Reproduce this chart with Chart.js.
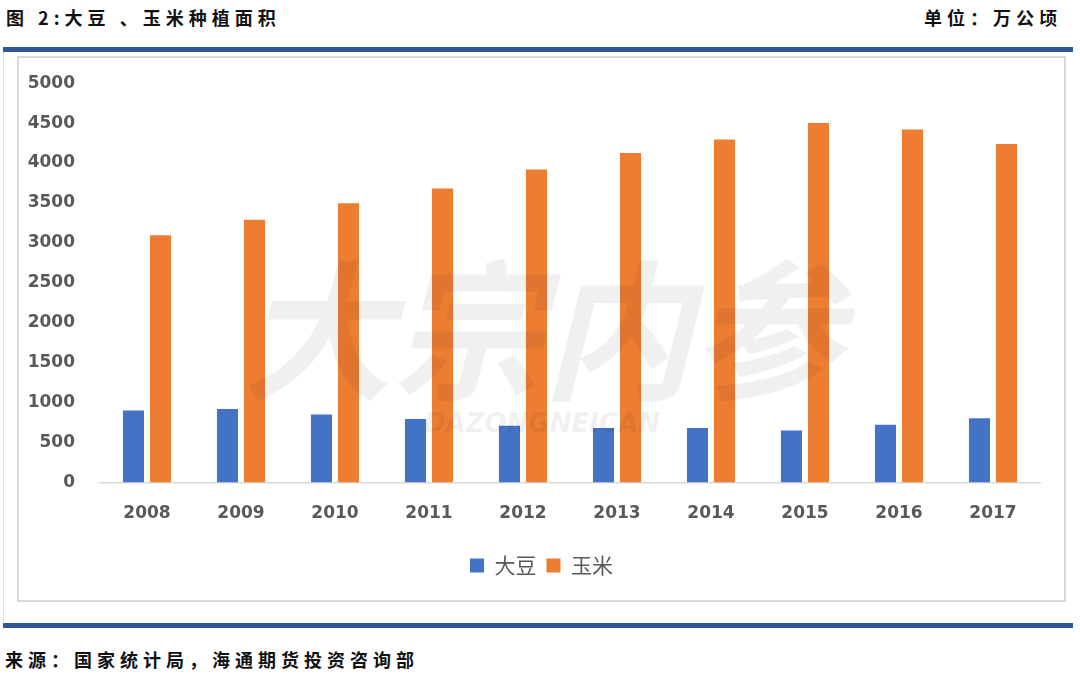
<!DOCTYPE html>
<html>
<head>
<meta charset="utf-8">
<script src="https://cdn.jsdelivr.net/npm/chart.js@4/dist/chart.umd.min.js"></script>
<style>
  html, body { margin: 0; padding: 0; background: #fff; }
  body { width: 1080px; height: 686px; position: relative; overflow: hidden; font-family: "Noto Sans CJK SC", sans-serif; }
  .title { position: absolute; left: 6px; top: 4px; font-size: 18px; font-weight: bold; color: #111; letter-spacing: 5px; }
  .unit { position: absolute; right: 18px; top: 4px; font-size: 18px; font-weight: bold; color: #111; letter-spacing: 5px; }
  .bar { position: absolute; left: 3px; width: 1070px; height: 5px; background: #2f5597; }
  .dots { position: absolute; left: 3px; top: 52px; height: 570px; border-left: 1px dotted #ccc; }
  .box { position: absolute; left: 17px; top: 56px; width: 1045px; height: 542px; border: 2px solid #d9d9d9; }
  .box canvas { position: absolute; left: -2px; top: -2px; }
  .source { position: absolute; left: 5px; top: 646px; font-size: 18px; font-weight: bold; color: #111; letter-spacing: 5px; }
</style>
</head>
<body>
<div class="title">图 2:大豆 、玉米种植面积</div>
<div class="unit">单位：万公顷</div>
<div class="bar" style="top:47px"></div>
<div class="dots"></div>
<div class="box"><canvas id="chart" width="1049" height="546"></canvas></div>
<div class="bar" style="top:623px"></div>
<div class="source">来源：国家统计局，海通期货投资咨询部</div>

<script>
// years on the x axis
const years = ['2008', '2009', '2010', '2011', '2012', '2013', '2014', '2015', '2016', '2017'];
// planted area, 万公顷
const soybean = [902, 919, 852, 794, 710, 681, 681, 652, 723, 806];
const corn = [3095, 3290, 3498, 3681, 3919, 4127, 4294, 4502, 4419, 4240];

const tickFont = { family: 'DejaVu Sans', size: 17, weight: 'bold' };

// faint watermark like the one in the source picture
const watermark = {
    id: 'watermark',
    afterDatasetsDraw(chart) {
        const c = chart.ctx;
        c.save();
        c.fillStyle = 'rgba(0,0,0,0.06)';
        c.textAlign = 'center';
        c.textBaseline = 'middle';
        c.font = 'italic bold 150px "Noto Sans CJK SC"';
        c.fillText('大宗内参', 525, 275);
        c.font = 'italic bold 26px "DejaVu Sans"';
        c.fillText('DAZONGNEICAN', 525, 369);
        c.restore();
    }
};

// centre the legend on the whole box, not on the padded area
const legendShift = {
    id: 'legendShift',
    afterLayout(chart) {
        if (chart.legend) {
            chart.legend.left += 13;
            chart.legend.right += 13;
        }
    }
};

new Chart(document.getElementById('chart').getContext('2d'), {
    type: 'bar',
    data: {
        labels: years,
        datasets: [
            { label: '大豆', data: soybean, backgroundColor: '#4472c4' },
            { label: '玉米', data: corn, backgroundColor: '#ed7d31' }
        ]
    },
    options: {
        responsive: false,
        animation: false,
        layout: { padding: { top: 26, right: 26, bottom: 16, left: 0 } },
        datasets: { bar: { categoryPercentage: 0.575, barPercentage: 0.78 } },
        scales: {
            x: {
                grid: { display: false },
                border: { color: '#d9d9d9', width: 1.5 },
                ticks: { color: '#595959', font: tickFont, padding: 13 },
                afterFit(scale) { scale.height = 62.5; }
            },
            y: {
                min: 0,
                max: 5000,
                grid: { display: false },
                border: { display: false },
                ticks: {
                    stepSize: 500,
                    color: '#595959',
                    font: tickFont,
                    padding: 17,
                    callback: v => String(v)
                },
                afterFit(scale) { scale.width = 83; }
            }
        },
        plugins: {
            legend: {
                position: 'bottom',
                labels: {
                    color: '#595959',
                    font: { family: 'Noto Sans CJK SC', size: 21 },
                    boxWidth: 14,
                    boxHeight: 14,
                    padding: 10
                }
            },
            tooltip: { enabled: false }
        }
    },
    plugins: [watermark, legendShift]
});
</script>
</body>
</html>
